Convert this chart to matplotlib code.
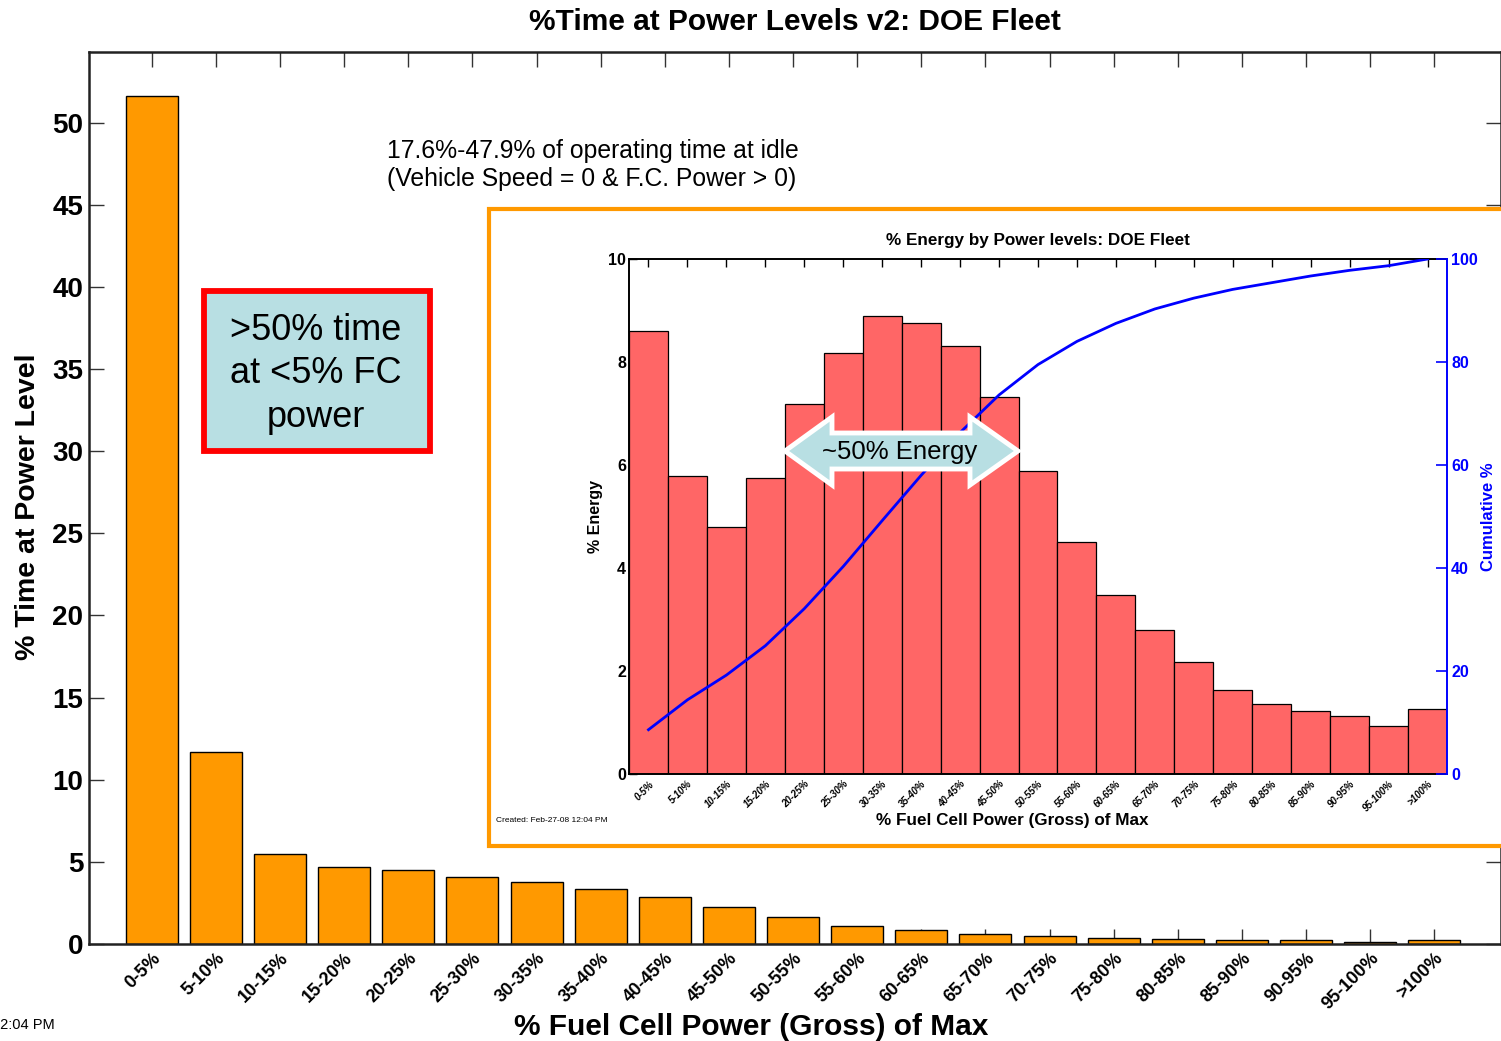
import numpy as np
import matplotlib
matplotlib.use("Agg")
import matplotlib.pyplot as plt
import matplotlib.patches as mpatches
import matplotlib.transforms as mtransforms

plt.rcParams['font.family'] = ['Liberation Sans', 'DejaVu Sans']

# power level bins (shared by both charts)
bins = ['0-5%', '5-10%', '10-15%', '15-20%', '20-25%', '25-30%', '30-35%',
        '35-40%', '40-45%', '45-50%', '50-55%', '55-60%', '60-65%', '65-70%',
        '70-75%', '75-80%', '80-85%', '85-90%', '90-95%', '95-100%', '>100%']

# % time at each power level (main chart)
time_pct = [51.6, 11.7, 5.5, 4.7, 4.5, 4.1, 3.8, 3.35, 2.85, 2.25, 1.65,
            1.1, 0.85, 0.62, 0.47, 0.35, 0.28, 0.22, 0.22, 0.15, 0.22]

# % energy at each power level (inset) and cumulative energy
energy_pct = [8.61, 5.78, 4.80, 5.75, 7.18, 8.18, 8.89, 8.76, 8.32, 7.32, 5.89,
              4.51, 3.48, 2.79, 2.18, 1.64, 1.36, 1.22, 1.13, 0.93, 1.27]
cum_pct = [8.6, 14.4, 19.2, 24.9, 32.1, 40.3, 49.2, 58.0, 66.3, 73.6, 79.5,
           84.0, 87.5, 90.3, 92.4, 94.1, 95.4, 96.7, 97.8, 98.7, 100.0]

W, H = 1501, 1041
ORANGE = '#FF9900'
BLUE = '#0000FF'
LIGHTBLUE = '#B8DFE3'


def fx(x):
    return x / W


def fy(y):
    return 1 - y / H


fig = plt.figure(figsize=(W / 100, H / 100), dpi=100)

# ---- main chart
ax = fig.add_axes([fx(89), fy(944), fx(1501) - fx(89), fy(52) - fy(944)])
xpos = np.arange(len(bins))
ax.bar(xpos, time_pct, width=0.81, color=ORANGE, edgecolor='black', linewidth=1)
ax.set_axisbelow(True)
ax.set_xlim(-0.98, 21.04)
ax.set_ylim(0, 54.3)
ax.set_yticks(np.arange(0, 51, 5))
ax.set_xticks(xpos)
ax.set_xticklabels(bins, rotation=45, ha='right', rotation_mode='anchor',
                   fontsize=13, fontweight='bold')
offset = mtransforms.ScaledTranslation(15 / 72, 0, fig.dpi_scale_trans)
for lbl in ax.get_xticklabels():
    lbl.set_transform(lbl.get_transform() + offset)
ax.tick_params(axis='both', direction='in', length=11, width=1, top=True, right=True,
               color='#333333')
ax.tick_params(axis='y', labelsize=20, pad=4)
ax.tick_params(axis='x', pad=4)
for lbl in ax.get_yticklabels():
    lbl.set_fontweight('bold')
for s in ax.spines.values():
    s.set_linewidth(1.8)
    s.set_color('#222222')

ax.set_title('%Time at Power Levels v2: DOE Fleet', fontsize=21.5,
             fontweight='bold', pad=16)
ax.set_xlabel('% Fuel Cell Power (Gross) of Max', fontsize=21.5, fontweight='bold')
ax.xaxis.set_label_coords((751 - 89) / 1412, -0.077)
ax.set_ylabel('% Time at Power Level', fontsize=20.5, fontweight='bold')
ax.yaxis.set_label_coords(-0.034, 0.49)

fig.text(fx(387), fy(165), '17.6%-47.9% of operating time at idle\n'
         '(Vehicle Speed = 0 & F.C. Power > 0)', fontsize=17.8, ha='left',
         va='center', linespacing=1.2)
fig.text(fx(55), fy(1025), 'Created: Feb-27-08 12:04 PM', fontsize=10.5,
         ha='right', va='center')

# red call-out box
fig.patches.append(mpatches.Rectangle((fx(204), fy(451)), fx(430) - fx(204),
                                      fy(291) - fy(451), transform=fig.transFigure,
                                      facecolor=LIGHTBLUE, edgecolor='#FF0000',
                                      linewidth=4.2, zorder=1.6))
fig.text(fx(316), fy(374), '>50% time\nat <5% FC\npower', fontsize=26,
         ha='center', va='center', linespacing=1.3, zorder=1.7)

# ---- inset frame
fig.patches.append(mpatches.Rectangle((fx(489), fy(846)), fx(1520) - fx(489),
                                      fy(209) - fy(846), transform=fig.transFigure,
                                      facecolor='white', edgecolor=ORANGE,
                                      linewidth=3, zorder=1.5))

axi = fig.add_axes([fx(629), fy(774), fx(1447) - fx(629), fy(259) - fy(774)], zorder=2)
axi.bar(xpos, energy_pct, width=1.0, color='#FF6666', edgecolor='black', linewidth=0.9)
axi.set_axisbelow(True)
axi.set_xlim(-0.5, 20.5)
axi.set_ylim(0, 10)
axi.set_yticks(np.arange(0, 11, 2))
axi.set_xticks(xpos)
axi.set_xticklabels(bins, rotation=45, ha='right', rotation_mode='anchor',
                    fontsize=7, fontweight='bold', style='italic')
offset2 = mtransforms.ScaledTranslation(7 / 72, 0, fig.dpi_scale_trans)
for lbl in axi.get_xticklabels():
    lbl.set_transform(lbl.get_transform() + offset2)
axi.tick_params(axis='both', direction='in', length=6, width=1, top=True)
axi.tick_params(axis='y', labelsize=11.5, pad=2)
for lbl in axi.get_yticklabels():
    lbl.set_fontweight('bold')
for s in axi.spines.values():
    s.set_linewidth(1.4)
axi.spines['right'].set_visible(False)
axi.set_title('% Energy by Power levels: DOE Fleet', fontsize=12.3, fontweight='bold', pad=10)
axi.set_xlabel('% Fuel Cell Power (Gross) of Max', fontsize=12.3, fontweight='bold')
axi.xaxis.set_label_coords((1012 - 629) / 818, -0.076)
axi.set_ylabel('% Energy', fontsize=11.5, fontweight='bold', labelpad=4)

axc = axi.twinx()
axc.plot(xpos, cum_pct, color=BLUE, linewidth=2)
axc.set_ylim(0, 100)
axc.set_yticks(np.arange(0, 101, 20))
axc.tick_params(axis='y', direction='in', length=8, width=1.2, colors=BLUE,
                labelsize=11.5, pad=3)
for lbl in axc.get_yticklabels():
    lbl.set_fontweight('bold')
axc.spines['right'].set_color(BLUE)
axc.spines['right'].set_linewidth(1.4)
for side in ['left', 'top', 'bottom']:
    axc.spines[side].set_visible(False)
axc.set_ylabel('Cumulative %', fontsize=12, fontweight='bold', color=BLUE, labelpad=2)

fig.text(fx(496), fy(821), 'Created: Feb-27-08 12:04 PM', fontsize=6,
         ha='left', va='center')

# ---- "~50% Energy" double arrow
arrow_px = [(785, 451), (832, 417), (832, 433), (970, 433), (970, 417), (1018, 451),
            (970, 485), (970, 469), (832, 469), (832, 485)]
fig.patches.append(mpatches.Polygon([(fx(a), fy(b)) for a, b in arrow_px], closed=True,
                                    transform=fig.transFigure, facecolor=LIGHTBLUE,
                                    edgecolor='white', linewidth=3.5, zorder=5))
fig.text(fx(900), fy(452), '~50% Energy', fontsize=18.5, ha='center', va='center', zorder=6)

fig.savefig('out.png', dpi=100)
